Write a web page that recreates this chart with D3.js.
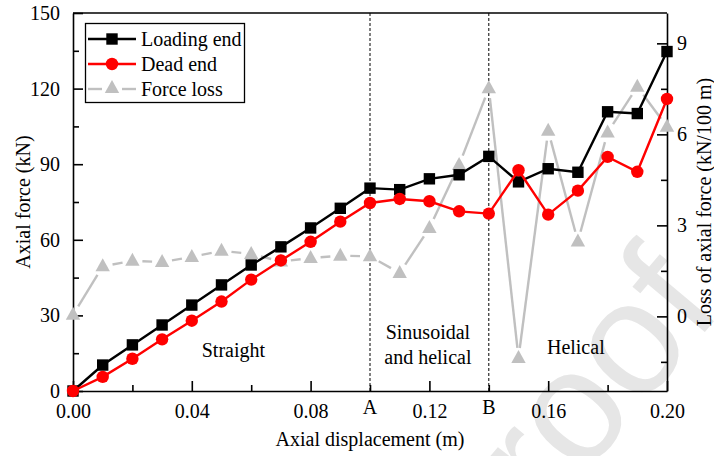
<!DOCTYPE html>
<html>
<head>
<meta charset="utf-8">
<script src="https://cdn.jsdelivr.net/npm/d3@7"></script>
<style>
  html, body { margin: 0; padding: 0; background: #fff; }
  svg { display: block; }
  text { font-family: "Liberation Serif", "Times New Roman", serif; fill: #000; }
</style>
</head>
<body>
<svg id="chart" width="714" height="456"></svg>
<script>
// Axial displacement (m) sampled every 0.01 m
const displacement = [0.00, 0.01, 0.02, 0.03, 0.04, 0.05, 0.06, 0.07, 0.08, 0.09, 0.10,
                      0.11, 0.12, 0.13, 0.14, 0.15, 0.16, 0.17, 0.18, 0.19, 0.20];
// Axial force at the loading end (kN)
const loadingEnd = [0, 10.3, 18.3, 26.2, 34.1, 42.1, 50.0, 57.2, 64.7, 72.5, 80.5,
                    79.9, 84.2, 85.8, 93.1, 83.0, 88.2, 86.8, 110.8, 110.1, 134.7];
// Axial force at the dead end (kN)
const deadEnd = [0, 5.6, 12.8, 20.5, 27.9, 35.5, 44.2, 51.8, 59.2, 67.2, 74.6,
                 76.2, 75.3, 71.3, 70.4, 87.6, 70.0, 79.5, 92.9, 87.0, 115.9];
// Loss of axial force (kN/100 m)
const forceLoss = [0.05, 1.65, 1.83, 1.79, 1.96, 2.16, 2.06, 1.81, 1.92, 2.0, 1.98,
                   1.43, 2.91, 4.99, 7.52, -1.37, 6.12, 2.47, 6.06, 7.57, 6.25];

const leftTicks = [0, 30, 60, 90, 120, 150];
const rightTicks = [0, 3, 6, 9];
const xTicks = [0, 0.04, 0.08, 0.12, 0.16, 0.20];
const buckleMarks = [{x: 0.10, label: "A"}, {x: 0.14, label: "B"}];
// configuration zones, anchored in data units (displacement, kN)
const regionLabels = [
  {x: 0.0540, y: 13.5, lines: ["Straight"]},
  {x: 0.1195, y: 20.6, lines: ["Sinusoidal", "and helical"]},
  {x: 0.1693, y: 14.7, lines: ["Helical"]}
];
const seriesNames = ["Loading end", "Dead end", "Force loss"];

const svg = d3.select("#chart");
const L = 73, R = 667, T = 13, B = 391;

const x = d3.scaleLinear().domain([0, 0.2]).range([L, R]);
const yL = d3.scaleLinear().domain([0, 150]).range([B, T]);
const yR = d3.scaleLinear().domain([-2.46, 10]).range([B, T]);

// faint diagonal watermark behind everything
svg.append("text")
  .attr("transform", "translate(490,588) rotate(-50)")
  .style("font-family", "'Liberation Sans', Arial, sans-serif")
  .style("font-size", "160px")
  .style("fill", "#e6e6e6")
  .text("proof");

// region separators
buckleMarks.forEach(m => {
  svg.append("line")
    .attr("x1", x(m.x)).attr("x2", x(m.x))
    .attr("y1", T).attr("y2", B)
    .attr("stroke", "#000").attr("stroke-width", 1)
    .attr("stroke-dasharray", "3,2");
  svg.append("text")
    .attr("x", x(m.x)).attr("y", 414)
    .attr("text-anchor", "middle")
    .style("font-size", "20px")
    .text(m.label);
});

// axes (ticks point inward)
function styleAxis(g) {
  g.select(".domain").attr("stroke-width", 1.6);
  g.selectAll(".tick line").attr("stroke-width", 1.6);
  g.selectAll("text").style("font-size", "20px")
    .style("font-family", "'Liberation Serif', 'Times New Roman', serif");
}

const xMinor = d3.range(0.02, 0.2, 0.04);
svg.append("g").attr("transform", `translate(0,${B})`)
  .call(d3.axisBottom(x).tickValues(xMinor).tickSize(-6).tickFormat(""))
  .call(g => g.select(".domain").remove())
  .call(g => g.selectAll(".tick line").attr("stroke-width", 1.6));
svg.append("g").attr("transform", `translate(0,${B})`)
  .call(d3.axisBottom(x).tickValues(xTicks).tickSizeInner(-10).tickSizeOuter(0)
    .tickPadding(13).tickFormat(d3.format(".2f")))
  .call(styleAxis);

const lMinor = d3.range(15, 150, 30);
svg.append("g").attr("transform", `translate(${L},0)`)
  .call(d3.axisLeft(yL).tickValues(lMinor).tickSize(-6).tickFormat(""))
  .call(g => g.select(".domain").remove())
  .call(g => g.selectAll(".tick line").attr("stroke-width", 1.6));
svg.append("g").attr("transform", `translate(${L},0)`)
  .call(d3.axisLeft(yL).tickValues(leftTicks).tickSizeInner(-10).tickSizeOuter(0).tickPadding(13))
  .call(styleAxis);

const rMinor = [-1.5, 1.5, 4.5, 7.5];
svg.append("g").attr("transform", `translate(${R},0)`)
  .call(d3.axisRight(yR).tickValues(rMinor).tickSize(-6).tickFormat(""))
  .call(g => g.select(".domain").remove())
  .call(g => g.selectAll(".tick line").attr("stroke-width", 1.6));
svg.append("g").attr("transform", `translate(${R},0)`)
  .call(d3.axisRight(yR).tickValues(rightTicks).tickSizeInner(-10).tickSizeOuter(0).tickPadding(10))
  .call(styleAxis);

// top frame
svg.append("line").attr("x1", L).attr("x2", R).attr("y1", T).attr("y2", T)
  .attr("stroke", "#000").attr("stroke-width", 1.6);

// axis titles
svg.append("text").attr("x", (L + R) / 2).attr("y", 446)
  .attr("text-anchor", "middle").style("font-size", "20px")
  .text("Axial displacement (m)");
svg.append("text").attr("transform", `translate(30,${(T + B) / 2}) rotate(-90)`)
  .attr("text-anchor", "middle").style("font-size", "20px")
  .text("Axial force (kN)");
svg.append("text").attr("transform", `translate(711,${(T + B) / 2}) rotate(-90)`)
  .attr("text-anchor", "middle").style("font-size", "20px")
  .text("Loss of axial force (kN/100 m)");

// region labels
regionLabels.forEach(r => {
  r.lines.forEach((t, i) => {
    svg.append("text")
      .attr("x", x(r.x))
      .attr("y", yL(r.y) + i * 25)
      .attr("text-anchor", "middle")
      .style("font-size", "20px")
      .text(t);
  });
});

const GREY = "#c0c0c0";
const triPath = "M0,-8L7.2,5L-7.2,5Z";

// force loss: solid segments that stop short of each symbol
const lossPts = displacement.map((d, i) => [x(d), yR(forceLoss[i])]);
const gap = 10;
const lossG = svg.append("g");
d3.pairs(lossPts).forEach(([p, q]) => {
  const dx = q[0] - p[0], dy = q[1] - p[1];
  const len = Math.hypot(dx, dy);
  if (len <= 2 * gap) return;
  const ux = dx / len, uy = dy / len;
  lossG.append("line")
    .attr("x1", p[0] + ux * gap).attr("y1", p[1] + uy * gap)
    .attr("x2", q[0] - ux * gap).attr("y2", q[1] - uy * gap)
    .attr("stroke", GREY).attr("stroke-width", 2.4);
});
lossG.selectAll("path.tri").data(lossPts).join("path")
  .attr("class", "tri")
  .attr("d", triPath)
  .attr("transform", d => `translate(${d[0]},${d[1]})`)
  .attr("fill", GREY);

// loading end
const lineL = d3.line().x((d, i) => x(displacement[i])).y(d => yL(d));
svg.append("path").datum(loadingEnd).attr("d", lineL)
  .attr("fill", "none").attr("stroke", "#000").attr("stroke-width", 2.4);
svg.append("g").selectAll("rect").data(loadingEnd).join("rect")
  .attr("x", (d, i) => x(displacement[i]) - 5.7)
  .attr("y", d => yL(d) - 5.7)
  .attr("width", 11.4).attr("height", 11.4)
  .attr("fill", "#000");

// dead end
svg.append("path").datum(deadEnd).attr("d", lineL)
  .attr("fill", "none").attr("stroke", "#ff0000").attr("stroke-width", 2.4);
svg.append("g").selectAll("circle").data(deadEnd).join("circle")
  .attr("cx", (d, i) => x(displacement[i]))
  .attr("cy", d => yL(d))
  .attr("r", 6.2)
  .attr("fill", "#ff0000");

// legend
const lg = svg.append("g");
lg.append("rect").attr("x", 85.5).attr("y", 23.5).attr("width", 159).attr("height", 79)
  .attr("fill", "#fff").attr("stroke", "#000").attr("stroke-width", 1.3);
const rowY = [39, 64, 89];
const lx1 = 88, lx2 = 136, lm = 112;
lg.append("line").attr("x1", lx1).attr("x2", lx2).attr("y1", rowY[0]).attr("y2", rowY[0])
  .attr("stroke", "#000").attr("stroke-width", 2.4);
lg.append("rect").attr("x", lm - 5.7).attr("y", rowY[0] - 5.7).attr("width", 11.4).attr("height", 11.4)
  .attr("fill", "#000");
lg.append("line").attr("x1", lx1).attr("x2", lx2).attr("y1", rowY[1]).attr("y2", rowY[1])
  .attr("stroke", "#ff0000").attr("stroke-width", 2.4);
lg.append("circle").attr("cx", lm).attr("cy", rowY[1]).attr("r", 6.2).attr("fill", "#ff0000");
[[lx1, lm - 10], [lm + 10, lx2]].forEach(([a, b]) => {
  lg.append("line").attr("x1", a).attr("x2", b).attr("y1", rowY[2]).attr("y2", rowY[2])
    .attr("stroke", GREY).attr("stroke-width", 2.4);
});
lg.append("path").attr("d", triPath).attr("transform", `translate(${lm},${rowY[2] - 1})`)
  .attr("fill", GREY);
seriesNames.forEach((n, i) => {
  lg.append("text").attr("x", 141).attr("y", rowY[i] + 7)
    .style("font-size", "20px").text(n);
});
</script>
</body>
</html>
